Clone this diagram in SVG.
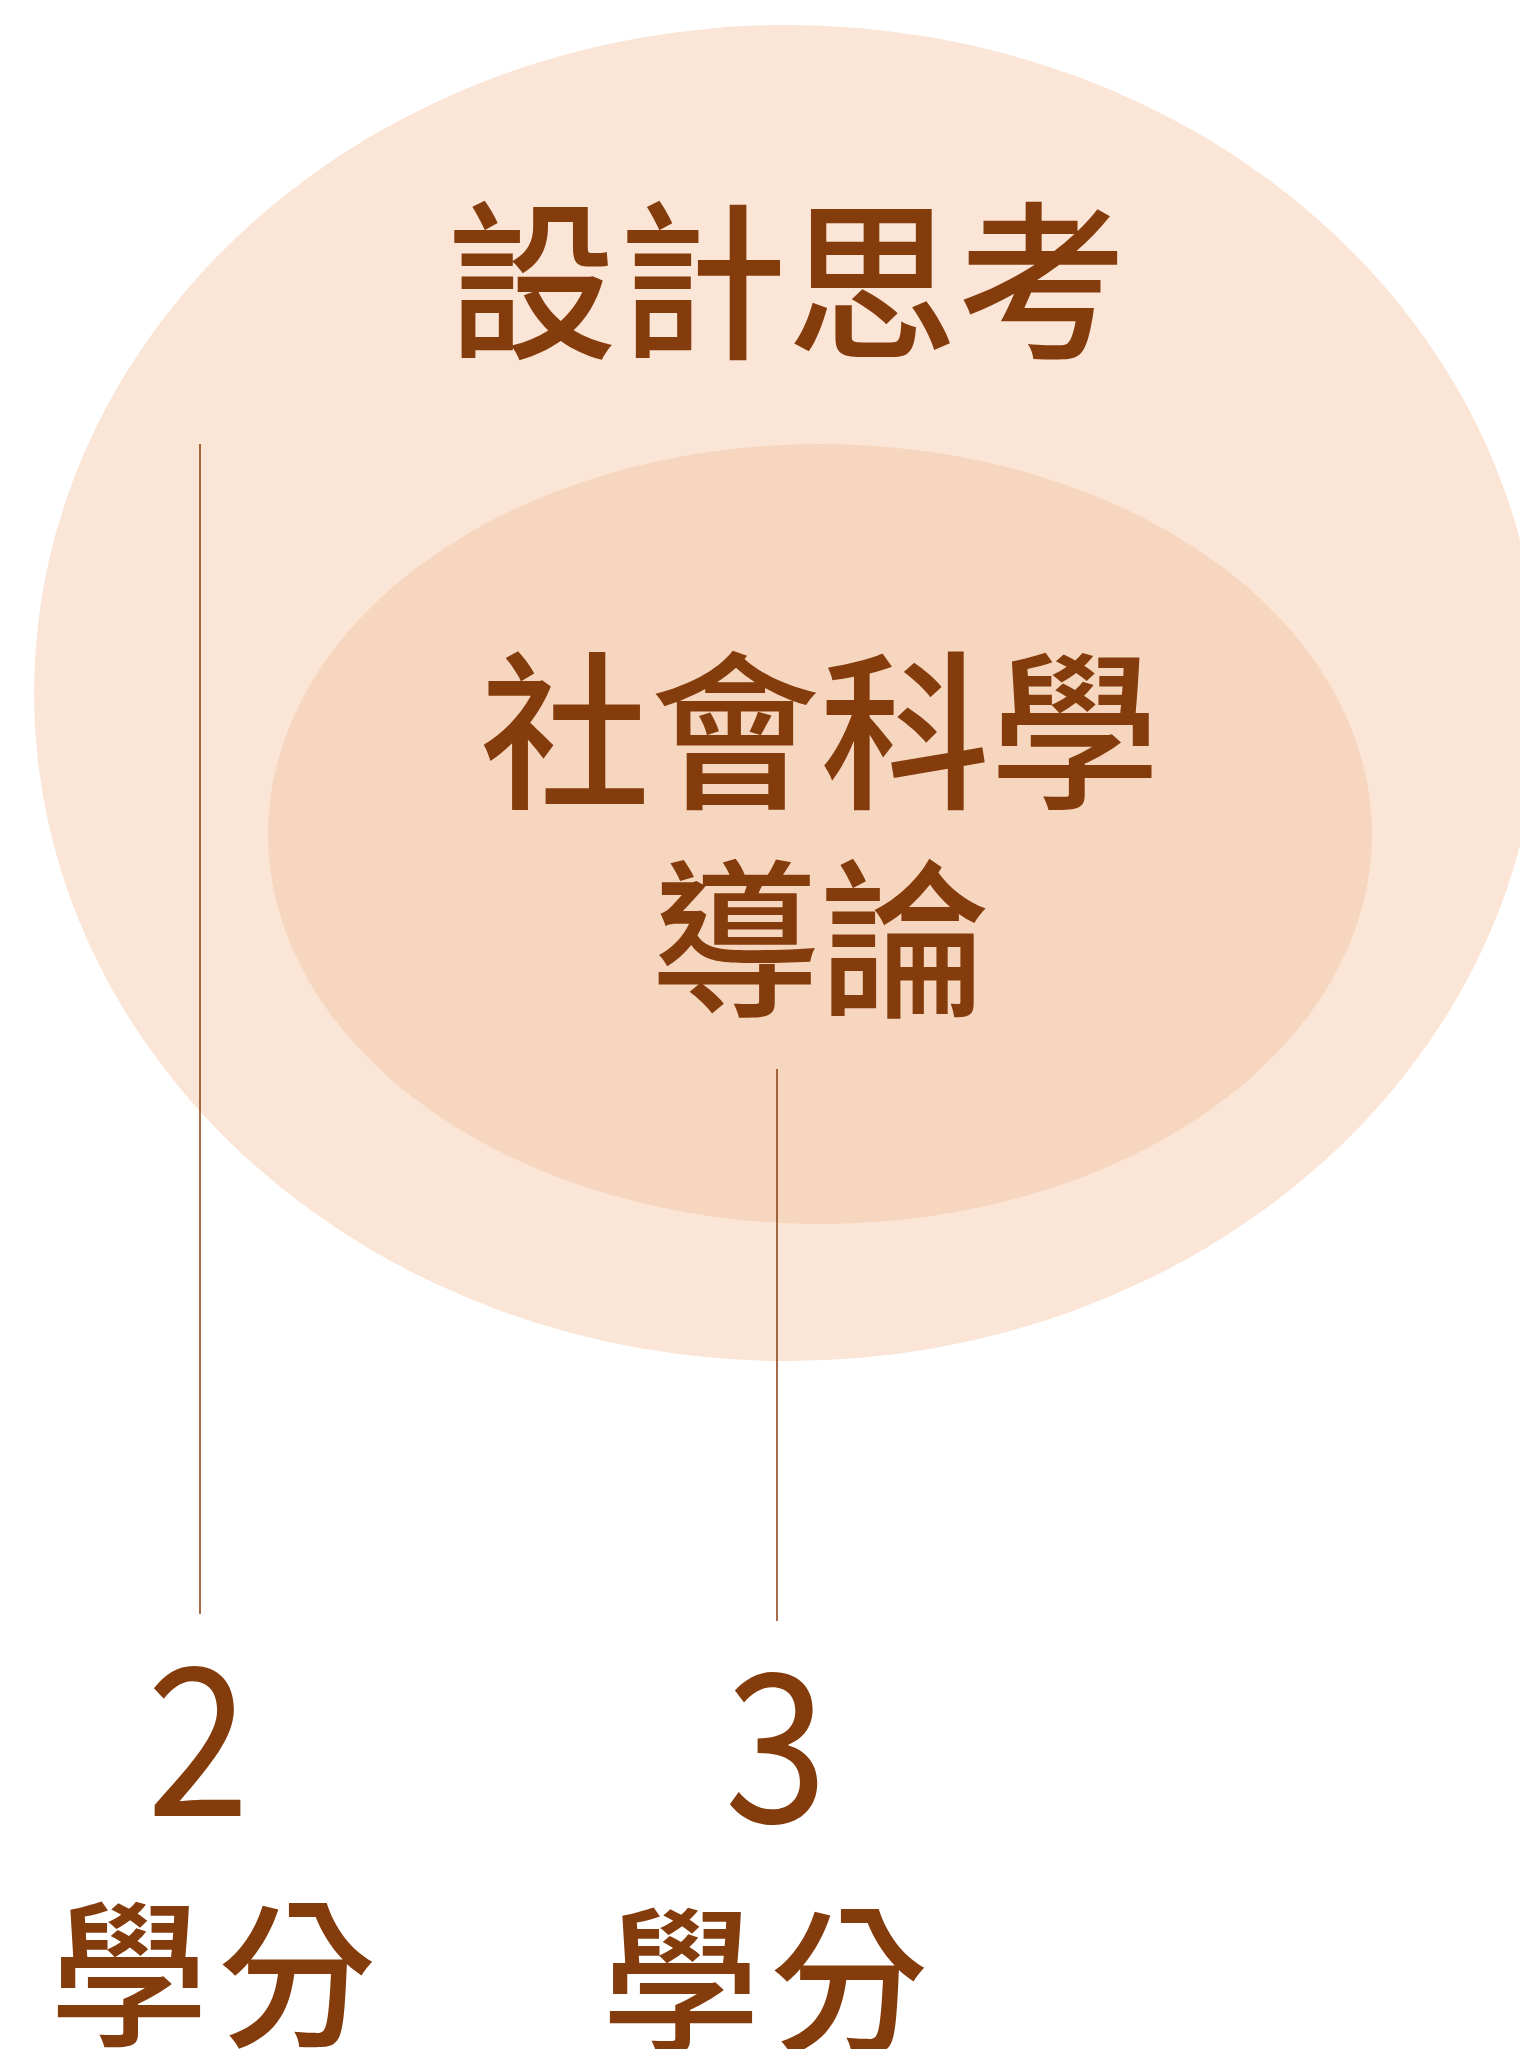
<svg xmlns="http://www.w3.org/2000/svg" width="1520" height="2049" viewBox="0 0 1520 2049">
  <style>
    .cjk { font-family: "Noto Sans CJK TC", "Noto Sans CJK SC", sans-serif; font-weight: 500; fill: #843C0C; }
    .num { font-family: "Noto Sans CJK TC", "Noto Sans", sans-serif; font-weight: 400; fill: #843C0C; font-size: 200px; text-anchor: middle; }
    .conn { stroke: #843C0C; stroke-width: 1.5; fill: none; }
  </style>
  <rect width="1520" height="2049" fill="#FFFFFF"/>
  <g id="outer-ellipse">
    <ellipse cx="787" cy="693" rx="753" ry="668" fill="#FBE5D6"/>
    <text class="cjk" x="787" y="346" font-size="170" text-anchor="middle">設計思考</text>
  </g>
  <g id="inner-ellipse">
    <ellipse cx="820" cy="834" rx="552" ry="390" fill="#F7D6BF"/>
    <text class="cjk" x="820" y="796" font-size="170" text-anchor="middle">社會科學</text>
    <text class="cjk" x="820" y="1004" font-size="170" text-anchor="middle">導論</text>
  </g>
  <g id="connectors">
    <line class="conn" x1="200" y1="444" x2="200" y2="1614"/>
    <line class="conn" x1="777" y1="1069" x2="777" y2="1621"/>
  </g>
  <g id="credit-2">
    <text class="num" x="198" y="1816" transform="translate(198 1816) scale(0.93 1.03) translate(-198 -1816)">2</text>
    <text class="cjk" x="50" y="2034" font-size="158" letter-spacing="10">學分</text>
  </g>
  <g id="credit-3">
    <text class="num" x="776" y="1822" transform="translate(776 1822) scale(0.93 1.03) translate(-776 -1822)">3</text>
    <text class="cjk" x="602" y="2040" font-size="158" letter-spacing="10">學分</text>
  </g>
</svg>
